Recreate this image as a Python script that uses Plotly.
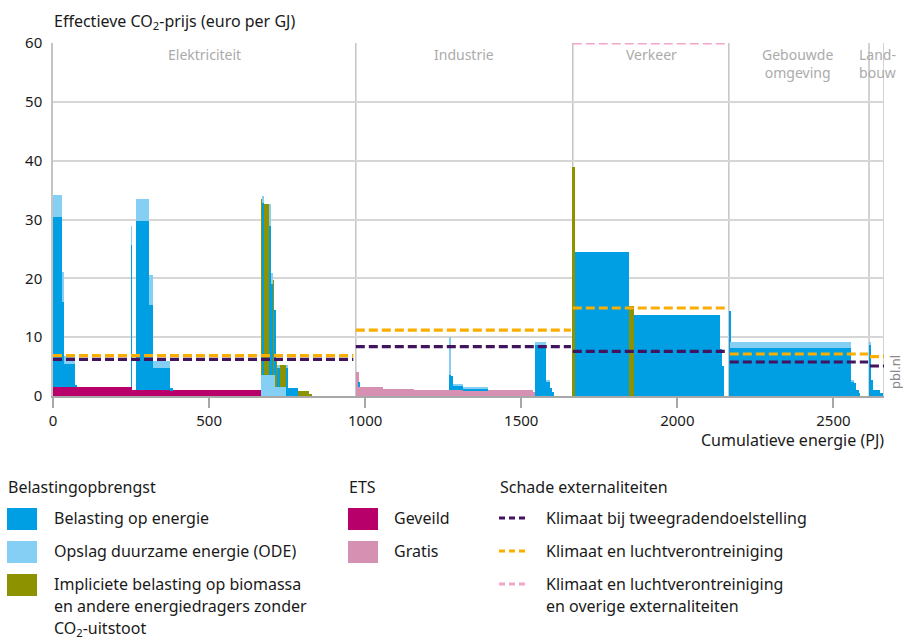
import numpy as np
import plotly.graph_objects as go

# ---------------- data (PJ widths and euro/GJ heights) ----------------
# each item: width (PJ) and stacked components
item_width = [28, 8, 35, 5, 174, 3, 13, 42, 13, 54, 10, 282,
              3, 6, 16, 7, 4, 5, 4, 6, 9, 20, 6, 32, 36, 9, 140,
              9, 3, 74, 100, 115, 4, 5, 32, 80, 144, 8, 35, 13, 6, 7, 59,
              8, 173, 15, 277, 7, 3, 20,
              2, 388, 9, 7, 8, 5, 27,
              7, 6, 23, 9]
ets_geveild = [1.5, 1.5, 1.5, 1.5, 1.5, 1.5, 1.0, 1.0, 1.0, 1.0, 1.0, 1.0,
               0, 0, 0, 0, 0, 0, 0, 0, 0, 0, 0, 0, 0, 0, 0,
               0, 0, 0, 0, 0, 0, 0, 0, 0, 0, 0, 0, 0, 0, 0, 0,
               0, 0, 0, 0, 0, 0, 0,
               0, 0, 0, 0, 0, 0, 0,
               0, 0, 0, 0]
ets_gratis = [0, 0, 0, 0, 0, 0, 0, 0, 0, 0, 0, 0,
              0, 0, 0, 0, 0, 0, 0, 0, 0, 0, 0, 0, 0, 0, 0,
              4.1, 1.6, 1.53, 1.19, 1.02, 1.0, 1.0, 1.0, 1.0, 1.02, 0.7, 0, 0, 0, 0, 0,
              0, 0, 0, 0, 0, 0, 0,
              0, 0, 0, 0, 0, 0, 0,
              0, 0, 0, 0]
ode_onder = [0, 0, 0, 0, 0, 0, 0, 0, 0, 0, 0, 0,
             3.6, 3.6, 3.6, 3.6, 3.6, 3.6, 3.6, 1.5, 1.5, 1.5, 0, 0, 0, 0, 0,
             0, 0, 0, 0, 0, 0, 0, 0, 0, 0, 0, 0, 0, 0, 0, 0,
             0, 0, 0, 0, 0, 0, 0,
             0, 0, 0, 0, 0, 0, 0,
             0, 0, 0, 0]
biomassa = [0, 0, 0, 0, 0, 0, 0, 0, 0, 0, 0, 0,
            29.9, 0, 29.0, 0, 0, 16.1, 0, 4.5, 0, 3.8, 0, 0, 0.9, 0.35, 0,
            0, 0, 0, 0, 0, 0, 0, 0, 0, 0, 0, 0, 0, 0, 0, 0,
            39.0, 0, 15.35, 0, 0, 0, 0,
            0, 0, 0, 0, 0, 0, 0,
            0, 0, 0, 0]
belasting_energie = [28.9, 14.4, 3.9, 0.4, 0, 24.2, 0, 28.7, 14.5, 3.76, 0.3, 0,
                     0, 29.2, 0, 25.3, 15.4, 0, 11.0, 0, 3.3, 0, 4.8, 1.4, 0, 0, 0,
                     0, 0.8, 0, 0, 0, 2.6, 2.4, 0.7, 0.25, 0, 0, 8.6, 2.4, 1.3, 0.73, 0,
                     0, 24.4, 0, 13.77, 8.0, 5.1, 0,
                     14.4, 8.1, 2.4, 2.2, 1.0, 0.5, 0,
                     8.6, 2.7, 1.0, 0.5]
ode = [3.8, 5.2, 1.4, 0, 0, 3.2, 0, 3.8, 5.1, 1.24, 0, 0,
       0, 1.2, 0, 3.7, 1.9, 0, 0, 0, 0.5, 0, 0.5, 0, 0, 0, 0,
       0, 0, 0, 0, 0, 6.4, 0, 0.3, 0.23, 0, 0, 0.6, 0.3, 0, 0, 0,
       0, 0, 0, 0, 0, 0, 0,
       0, 1.1, 0.3, 0, 0, 0, 0,
       0.5, 0, 0, 0]

# sectors
sectors = ["Elektriciteit", "Industrie", "Verkeer", "Gebouwde<br>omgeving", "Land-<br>bouw"]
sector_start = [0, 970, 1665, 2165, 2614]
sector_end = [970, 1665, 2165, 2614, 2662]
sector_label_x = [486, 1316, 1916, 2386, 2640]

# damage lines (euro/GJ) per sector, with line extents
line_start = [0, 970, 1665, 2168, 2617]
line_end = [962, 1659, 2159, 2611, 2662]
klimaat_2graden = [6.24, 8.4, 7.6, 5.78, 5.1]
klimaat_lucht = [6.85, 11.2, 14.96, 7.14, 6.68]
klimaat_lucht_overig = [None, None, 60, None, None]

x_ticks = [0, 500, 1000, 1500, 2000, 2500]
y_ticks = [0, 10, 20, 30, 40, 50, 60]

# ---------------- styling ----------------
C_BLUE = "#009fe3"
C_LBLUE = "#85cff4"
C_OLIVE = "#8c9200"
C_MAGENTA = "#b8006a"
C_PINK = "#d690b2"
C_PURPLE = "#42145f"
C_ORANGE = "#f9ae00"
C_LPINK = "#f2a7c8"
FONT = "Noto Sans"
TXT = "#1a1a1a"
FS = 16

W, H = 903, 639
L, R, T, B = 53, 884, 43, 396

def px(x):
    return (x - L) / (R - L)

def py(y):
    return (B - y) / (B - T)

widths = np.array(item_width, dtype=float)
starts = np.concatenate([[0], np.cumsum(widths)[:-1]])
centers = starts + widths / 2

fig = go.Figure()
stack = [
    (ets_geveild, C_MAGENTA),
    (ets_gratis, C_PINK),
    (ode_onder, C_LBLUE),
    (biomassa, C_OLIVE),
    (belasting_energie, C_BLUE),
    (ode, C_LBLUE),
]
for vals, col in stack:
    fig.add_trace(go.Bar(x=centers, y=vals, width=widths,
                         marker=dict(color=col, line=dict(width=0)),
                         showlegend=False, hoverinfo="skip"))

def dashed(values, color):
    xs, ys = [], []
    for s, e, v in zip(line_start, line_end, values):
        if v is None:
            continue
        xs += [s, e, None]
        ys += [v, v, None]
    fig.add_trace(go.Scatter(x=xs, y=ys, mode="lines", cliponaxis=False,
                             line=dict(color=color, width=3.2, dash="9px,4px"),
                             showlegend=False, hoverinfo="skip"))

dashed(klimaat_lucht_overig, C_LPINK)
dashed(klimaat_lucht, C_ORANGE)
dashed(klimaat_2graden, C_PURPLE)

shapes = []
# sector boundaries
for xe in sector_end:
    shapes.append(dict(type="line", xref="x", yref="y", x0=xe, x1=xe, y0=0, y1=60,
                       line=dict(color="#c4c4c4", width=1.5), layer="below"))

annotations = []
for name, xl in zip(sectors, sector_label_x):
    annotations.append(dict(x=xl, y=1, xref="x", yref="paper", text=name,
                            showarrow=False, yanchor="top", yshift=0,
                            font=dict(family=FONT, size=14, color="#ababab")))

annotations.append(dict(x=px(52), y=py(21), xref="paper", yref="paper",
                        text="Effectieve CO<sub>2</sub>-prijs (euro per GJ)",
                        showarrow=False, xanchor="left", yanchor="middle",
                        font=dict(family=FONT, size=FS, color=TXT)))
annotations.append(dict(x=px(886), y=py(440), xref="paper", yref="paper",
                        text="Cumulatieve energie (PJ)", showarrow=False,
                        xanchor="right", yanchor="middle",
                        font=dict(family=FONT, size=FS, color=TXT)))
annotations.append(dict(x=px(884), y=py(372), xref="paper", yref="paper",
                        text="pbl.nl", showarrow=False, textangle=-90,
                        xanchor="left", yanchor="middle",
                        font=dict(family=FONT, size=13, color="#8a8a8a")))

# ---------------- custom legend ----------------
def label(x, y, text):
    annotations.append(dict(x=px(x), y=py(y), xref="paper", yref="paper", text=text,
                            showarrow=False, xanchor="left", yanchor="middle", align="left",
                            font=dict(family=FONT, size=FS, color=TXT)))

def square(x0, y0, col):
    shapes.append(dict(type="rect", xref="paper", yref="paper",
                       x0=px(x0), x1=px(x0 + 30), y0=py(y0), y1=py(y0 + 22),
                       fillcolor=col, line=dict(width=0)))

def dash_sym(x0, y, col):
    shapes.append(dict(type="line", xref="paper", yref="paper",
                       x0=px(x0), x1=px(x0 + 29), y0=py(y), y1=py(y),
                       line=dict(color=col, width=3, dash="6px,4px")))

label(6, 487, "Belastingopbrengst")
square(7, 508, C_BLUE); label(52, 518, "Belasting op energie")
square(7, 541, C_LBLUE); label(52, 551, "Opslag duurzame energie (ODE)")
square(7, 574, C_OLIVE)
label(52, 584, "Impliciete belasting op biomassa")
label(52, 606, "en andere energiedragers zonder")
label(52, 628, "CO<sub>2</sub>-uitstoot")

label(347, 487, "ETS")
square(348, 508, C_MAGENTA); label(392, 518, "Geveild")
square(348, 541, C_PINK); label(392, 551, "Gratis")

label(498, 487, "Schade externaliteiten")
dash_sym(499, 518, C_PURPLE); label(544, 518, "Klimaat bij tweegradendoelstelling")
dash_sym(499, 551, C_ORANGE); label(544, 551, "Klimaat en luchtverontreiniging")
dash_sym(499, 584, C_LPINK)
label(544, 584, "Klimaat en luchtverontreiniging")
label(544, 606, "en overige externaliteiten")

fig.update_layout(
    width=W, height=H, barmode="stack", bargap=0,
    margin=dict(l=L, r=W - R, t=T, b=H - B, pad=0),
    paper_bgcolor="white", plot_bgcolor="white",
    font=dict(family=FONT, size=FS, color=TXT),
    shapes=shapes, annotations=annotations,
    xaxis=dict(range=[0, 2662], tickvals=x_ticks, ticktext=[str(v) for v in x_ticks],
               showgrid=False, zeroline=False, showline=True, linecolor="#a8a8a8",
               linewidth=2, ticks="outside", ticklen=10, tickcolor="#a8a8a8", tickwidth=1.5,
               tickfont=dict(family=FONT, size=15, color=TXT), fixedrange=True),
    yaxis=dict(range=[0, 60], tickvals=y_ticks, showgrid=True, gridcolor="#d6d6d6",
               gridwidth=1.5, zeroline=False, showline=True, linecolor="#c4c4c4",
               linewidth=1.5, ticks="", ticklabelstandoff=6,
               tickfont=dict(family=FONT, size=15, color=TXT), fixedrange=True),
)

fig.write_html("out.html", config={"displayModeBar": False},
               post_script="document.body.style.margin='0px';document.body.style.overflow='hidden';")
